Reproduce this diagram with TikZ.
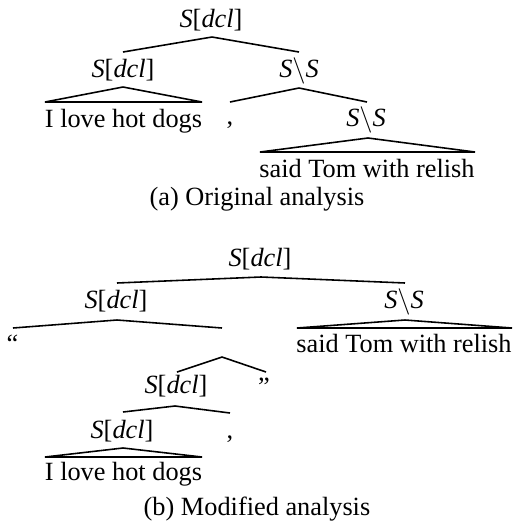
\documentclass[tikz,border=0pt]{standalone}
\usepackage{fontspec}
\setmainfont{Liberation Serif}
\newcommand\Sdcl{\textit{S}[\textit{dcl}]}
\newcommand\SbS{\textit{S}$\backslash$\textit{S}}
\begin{document}
\begin{tikzpicture}[x=0.38pt,y=-0.38pt,
  lbl/.style={anchor=base,inner sep=0pt,font=\fontsize{10}{12}\selectfont},
  edge/.style={line width=0.6pt,line join=miter}]
\useasboundingbox (0,0) rectangle (513,526);
% ---------- (a) ----------
\node[lbl] (t0) at (211,27) {\Sdcl};
\node[lbl] (t1) at (123,77) {\Sdcl};
\node[lbl] (t2) at (299,77) {\SbS};
\node[lbl] (t3) at (123.5,127) {I love hot dogs};
\node[lbl] (t4) at (230,124) {,};
\node[lbl] (t5) at (366,126) {\SbS};
\node[lbl] (t6) at (367,177) {said Tom with relish};
\node[lbl] (cap1) at (257,205) {(a) Original analysis};
\coordinate (t0a) at (212,37); \coordinate (t0l) at (123,52); \coordinate (t0r) at (299,52);
\coordinate (t1a) at (123,87); \coordinate (t1l) at (45,102); \coordinate (t1r) at (202,102);
\coordinate (t2a) at (299,88); \coordinate (t2l) at (230,102); \coordinate (t2r) at (367,102);
\coordinate (t5a) at (368,138); \coordinate (t5l) at (260,152); \coordinate (t5r) at (475,152);
\draw[edge] (t0l) -- (t0a) -- (t0r);
\draw[edge] (t1l) -- (t1a) -- (t1r) -- cycle;
\draw[edge] (t2l) -- (t2a) -- (t2r);
\draw[edge] (t5l) -- (t5a) -- (t5r) -- cycle;
% ---------- (b) ----------
\node[lbl] (b0) at (260,266) {\Sdcl};
\node[lbl] (b1) at (116,308) {\Sdcl};
\node[lbl] (b2) at (404,308) {\SbS};
\node[lbl] (b3) at (12.5,352) {``};
\node[lbl] (b4) at (404,352) {said Tom with relish};
\node[lbl] (b5) at (176,393) {\Sdcl};
\node[lbl] (b6) at (264,395) {''};
\node[lbl] (b7) at (122,438) {\Sdcl};
\node[lbl] (b8) at (230,438) {,};
\node[lbl] (b9) at (123.5,480) {I love hot dogs};
\node[lbl] (cap2) at (257,515) {(b) Modified analysis};
\coordinate (b0a) at (261,277); \coordinate (b0l) at (117,283); \coordinate (b0r) at (405,283);
\coordinate (b1a) at (117,320); \coordinate (b1l) at (13,328); \coordinate (b1r) at (222,328);
\coordinate (b2a) at (405,320); \coordinate (b2l) at (297,328); \coordinate (b2r) at (512,328);
\coordinate (bma) at (222,357); \coordinate (bml) at (177,372); \coordinate (bmr) at (266,372);
\coordinate (b5a) at (175,406); \coordinate (b5l) at (123,412); \coordinate (b5r) at (230,413);
\coordinate (b7a) at (123,448); \coordinate (b7l) at (45,457); \coordinate (b7r) at (202,457);
\draw[edge] (b0l) -- (b0a) -- (b0r);
\draw[edge] (b1l) -- (b1a) -- (b1r);
\draw[edge] (b2l) -- (b2a) -- (b2r) -- cycle;
\draw[edge] (bml) -- (bma) -- (bmr);
\draw[edge] (b5l) -- (b5a) -- (b5r);
\draw[edge] (b7l) -- (b7a) -- (b7r) -- cycle;
\end{tikzpicture}
\end{document}
